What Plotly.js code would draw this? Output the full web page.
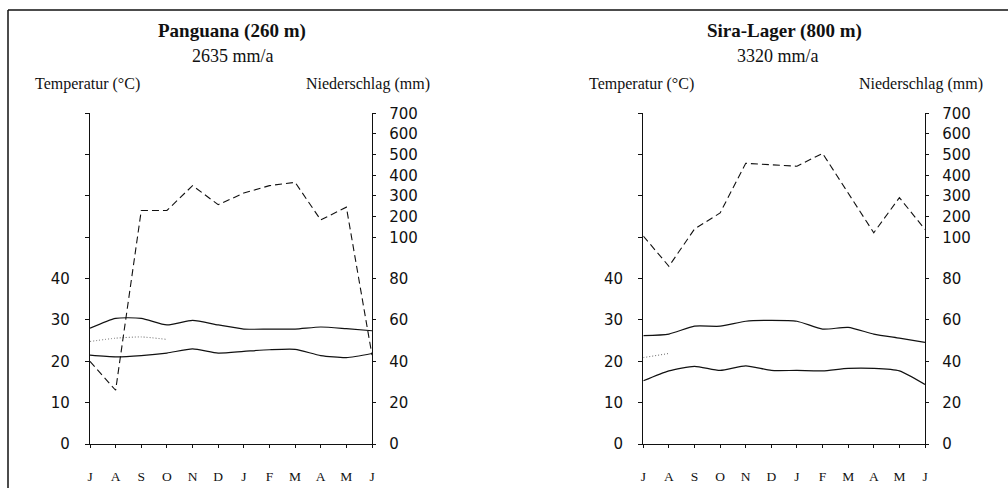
<!DOCTYPE html>
<html>
<head>
<meta charset="utf-8">
<script src="https://cdn.plot.ly/plotly-3.0.1.min.js"></script>
<style>html,body{margin:0;padding:0;background:#fff;}#chart{width:1008px;height:488px;}</style>
</head>
<body>
<div id="chart"></div>
<script>
// Month labels (July to June)
const months = ['J','A','S','O','N','D','J','F','M','A','M','J'];

// Panguana (260 m), 2635 mm/a
const pangTmax = [28.0, 30.4, 30.4, 28.8, 29.9, 28.8, 27.8, 27.8, 27.8, 28.3, 27.9, 27.4];
const pangTmin = [21.5, 21.1, 21.4, 22.0, 23.0, 22.0, 22.4, 22.8, 22.9, 21.4, 20.9, 21.9];
const pangTmean = [24.8, 25.6, 25.9, 25.3, null, null, null, null, null, null, null, null];
const pangPrec = [40, 26, 230, 230, 350, 258, 314, 350, 366, 184, 246, 43];

// Sira-Lager (800 m), 3320 mm/a
const siraTmax = [26.2, 26.6, 28.5, 28.5, 29.7, 29.9, 29.7, 27.8, 28.2, 26.6, 25.6, 24.6];
const siraTmin = [15.3, 17.7, 18.8, 17.8, 18.9, 17.8, 17.8, 17.7, 18.3, 18.3, 17.7, 14.4];
const siraTmean = [20.9, 21.9, null, null, null, null, null, null, null, null, null, null];
const siraPrec = [106, 86, 140, 218, 458, 452, 444, 506, 314, 122, 292, 138];

// Axis tick definitions
const tempTickVals = [0,10,20,30,40,50,60,70,80];
const tempTickText = ['0','10','20','30','40','','','',''];
const precTickLabels = [0,20,40,60,80,100,200,300,400,500,600,700];

// Walter-Lieth style precipitation scale: 20 mm = 10 °C up to 100 mm, compressed 1:10 above
function precToScale(p){ return p <= 100 ? p/2 : 50 + (p-100)/20; }

const xIdx = months.map((m,i)=>i);
const serif = 'Liberation Serif, Times New Roman, serif';
const numFont = 'DejaVu Sans, sans-serif';

function panelTraces(xa, ya, tmax, tmin, tmean, prec){
  return [
    {x:xIdx, y:tmax, xaxis:xa, yaxis:ya, mode:'lines', line:{color:'#111', width:1.2, shape:'spline', smoothing:0.6}, hoverinfo:'skip'},
    {x:xIdx, y:tmin, xaxis:xa, yaxis:ya, mode:'lines', line:{color:'#111', width:1.2, shape:'spline', smoothing:0.6}, hoverinfo:'skip'},
    {x:xIdx, y:tmean, xaxis:xa, yaxis:ya, mode:'lines', line:{color:'#666', width:1, dash:'1px,2px', shape:'spline', smoothing:0.6}, hoverinfo:'skip'},
    {x:xIdx, y:prec.map(precToScale), xaxis:xa, yaxis:ya, mode:'lines', line:{color:'#111', width:1.1, dash:'7px,4px'}, hoverinfo:'skip'}
  ];
}

const data = [].concat(
  panelTraces('x','y', pangTmax, pangTmin, pangTmean, pangPrec),
  panelTraces('x2','y3', siraTmax, siraTmin, siraTmean, siraPrec)
);
// invisible traces to activate right axes
data.push({x:[0], y:[0], xaxis:'x', yaxis:'y2', mode:'markers', marker:{opacity:0}, hoverinfo:'skip'});
data.push({x:[0], y:[0], xaxis:'x2', yaxis:'y4', mode:'markers', marker:{opacity:0}, hoverinfo:'skip'});

const W = 1008, H = 488;
const px = v => v / W;
const py = v => (H - v) / H;

const yDom = [py(444), py(113.3)];

function xAxis(dom){
  return {
    domain: dom, range:[0,11], fixedrange:true,
    tickvals: xIdx, ticktext: months,
    showline:true, linecolor:'#111', linewidth:1.2,
    ticks:'outside', ticklen:3, tickcolor:'#111', tickwidth:1,
    ticklabelstandoff: 17,
    tickfont:{family:serif, size:13.5, color:'#111'},
    showgrid:false, zeroline:false
  };
}
function tempAxis(anchor){
  return {
    domain: yDom, anchor: anchor, range:[0,80], fixedrange:true,
    tickvals: tempTickVals, ticktext: tempTickText,
    showline:true, linecolor:'#111', linewidth:1.2,
    ticks:'outside', ticklen:4, tickcolor:'#111',
    ticklabelstandoff: 12,
    tickfont:{family:numFont, size:15, color:'#111'},
    showgrid:false, zeroline:false
  };
}
function precAxis(anchor, over){
  return {
    domain: yDom, anchor: anchor, overlaying: over, side:'right', range:[0,80], fixedrange:true,
    tickvals: precTickLabels.map(precToScale), ticktext: precTickLabels.map(String),
    showline:true, linecolor:'#111', linewidth:1.2,
    ticks:'outside', ticklen:3, tickcolor:'#111',
    ticklabelstandoff: 10,
    tickfont:{family:numFont, size:15, color:'#111'},
    showgrid:false, zeroline:false
  };
}

function ann(text, x, y, size, bold, anchor){
  return {text: bold ? '<b>'+text+'</b>' : text, x:px(x), y:py(y), xref:'paper', yref:'paper',
    showarrow:false, xanchor:anchor||'center', yanchor:'middle',
    font:{family:serif, size:size, color:'#111'}};
}

const layout = {
  width:W, height:H, margin:{l:0,r:0,t:0,b:0},
  paper_bgcolor:'#fff', plot_bgcolor:'rgba(0,0,0,0)',
  showlegend:false,
  xaxis: xAxis([px(90), px(372)]),
  xaxis2: xAxis([px(643.3), px(925)]),
  yaxis: tempAxis('x'),
  yaxis2: precAxis('x','y'),
  yaxis3: tempAxis('x2'),
  yaxis4: precAxis('x2','y3'),
  annotations: [
    ann('Panguana (260 m)', 232, 31, 19, true),
    ann('2635 mm/a', 233, 56, 18, false),
    ann('Temperatur (°C)', 33, 84, 16, false, 'left'),
    ann('Niederschlag (mm)', 432, 84, 16, false, 'right'),
    ann('Sira-Lager (800 m)', 784, 31, 19, true),
    ann('3320 mm/a', 778, 56, 18, false),
    ann('Temperatur (°C)', 587, 84, 16, false, 'left'),
    ann('Niederschlag (mm)', 985, 84, 16, false, 'right')
  ],
  shapes: [
    {type:'line', xref:'paper', yref:'paper', x0:px(8), x1:1, y0:py(10), y1:py(10), line:{color:'#111', width:1.5}},
    {type:'line', xref:'paper', yref:'paper', x0:px(8), x1:px(8), y0:py(10), y1:0, line:{color:'#111', width:1.5}}
  ]
};

Plotly.newPlot('chart', data, layout, {staticPlot:true, displayModeBar:false});
</script>
</body>
</html>
